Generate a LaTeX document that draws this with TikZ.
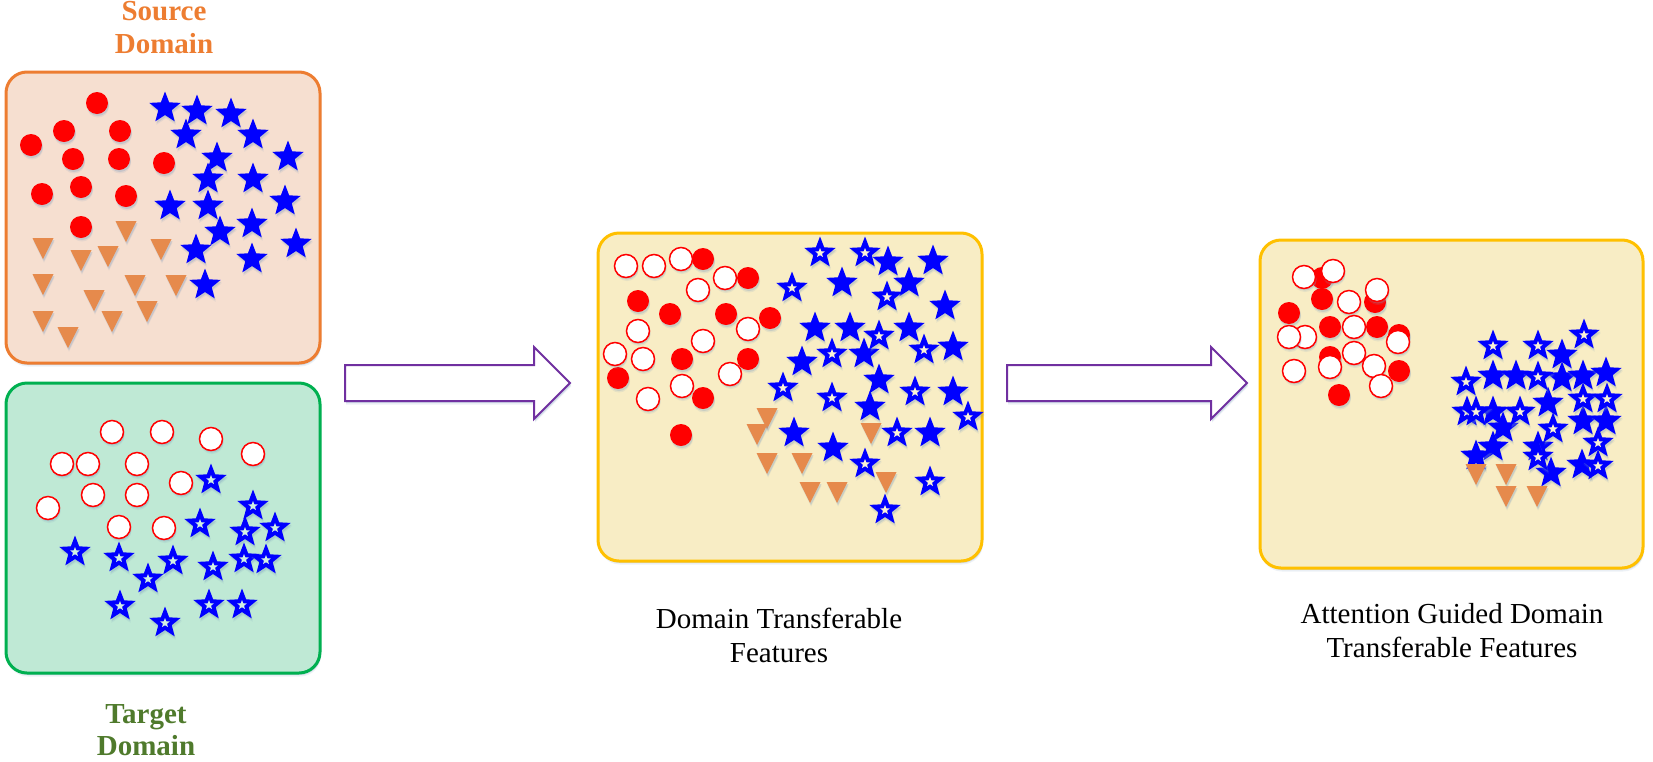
\documentclass[tikz,border=0pt]{standalone}
\usepackage{fontspec}
\setmainfont{Liberation Serif}
\usetikzlibrary{shapes.geometric,shapes.arrows,shadows}
\definecolor{srcfill}{HTML}{F6DFD0}
\definecolor{srcline}{HTML}{ED7D31}
\definecolor{tgtfill}{HTML}{BFE9D5}
\definecolor{tgtline}{HTML}{00B050}
\definecolor{yelfill}{HTML}{F8EDC5}
\definecolor{yelline}{HTML}{FFC000}
\definecolor{tgttext}{HTML}{4F7A2C}
\definecolor{arrline}{HTML}{7030A0}
\definecolor{triang}{HTML}{E68A4C}
\definecolor{shadowc}{HTML}{7F9DBF}
\tikzset{
  softshadow/.style={
    general shadow={shadow xshift=1pt,shadow yshift=-3.5pt,fill=shadowc,opacity=.14},
    general shadow={shadow xshift=1pt,shadow yshift=-2pt,fill=shadowc,opacity=.28}},
  panel/.style={rectangle,rounded corners=21pt,line width=3pt,inner sep=0pt,outer sep=0pt,softshadow},
  reddot/.style={circle,fill=red,minimum size=22pt,inner sep=0pt,softshadow},
  opendot/.style={circle,draw=red,line width=1.5pt,fill=white,minimum size=23pt,inner sep=0pt,softshadow},
  bluestar/.style={star,star points=5,star point ratio=2.35,fill=blue,minimum size=33pt,inner sep=0pt,softshadow},
  starhole/.style={star,star points=5,star point ratio=2.3,minimum size=10pt,inner sep=0pt},
  tritop/.style={fill=triang,softshadow},
  blockarrow/.style={single arrow,draw=arrline,fill=white,line width=2pt,inner xsep=0pt,inner ysep=17pt,outer sep=0pt,
    single arrow head extend=18pt,single arrow tip angle=90,
    single arrow head indent=0pt,softshadow},
  lab/.style={align=center,inner sep=0pt,font=\fontsize{29}{34}\selectfont},
}
\newcommand{\redset}[2]{\foreach \x/\y [count=\i] in {#2} \node[reddot] (#1\i) at (\x,\y) {};}
\newcommand{\openset}[2]{\foreach \x/\y [count=\i] in {#2} \node[opendot] (#1\i) at (\x,\y) {};}
\newcommand{\solidstars}[2]{\foreach \x/\y [count=\i] in {#2} \node[bluestar] (#1\i) at (\x,\y) {};}
\newcommand{\holostars}[3]{\foreach \x/\y [count=\i] in {#2} {\node[bluestar] (#1\i) at (\x,\y) {};\node[starhole,fill=#3] (#1h\i) at (\x,\y) {};}}
\newcommand{\tris}[1]{\foreach \x/\y in {#1} \path[tritop] (\x-10.5,\y) -- (\x+10.5,\y) -- (\x,\y+21) -- cycle;}
\begin{document}
\begin{tikzpicture}[x=1pt,y=-1pt]
\useasboundingbox (0,0) rectangle (1653,761);
\clip (0,0) rectangle (1653,761);
% panels
\node[panel,draw=srcline,fill=srcfill,minimum width=314pt,minimum height=291pt] (src) at (163,217.5) {};
\node[panel,draw=tgtline,fill=tgtfill,minimum width=314pt,minimum height=290pt] (tgt) at (163,528) {};
\node[panel,draw=yelline,fill=yelfill,minimum width=384pt,minimum height=328pt] (dtf) at (790,397) {};
\node[panel,draw=yelline,fill=yelfill,minimum width=383pt,minimum height=328pt] (agd) at (1451.5,404) {};
% arrows
\node[blockarrow,minimum height=225pt] (arrA) at (448.5,383) {};
\node[blockarrow,minimum height=240pt] (arrB) at (1118,383) {};
% labels
\node[lab,text=srcline,font=\fontsize{29}{33}\selectfont\bfseries] (srclab) at (164,28) {Source\\Domain};
\node[lab,text=tgttext,font=\fontsize{29}{32}\selectfont\bfseries] (tgtlab) at (146,730) {Target\\Domain};
\node[lab] (dtflab) at (779,635) {Domain Transferable\\Features};
\node[lab] (agdlab) at (1452,631) {Attention Guided Domain\\Transferable Features};
% source panel
\redset{sr}{97/103,64/131,120/131,31/145,73/159,119/159,164/163,42/194,81/187,126/196,81/227}
\tris{126/221,43/238,81/250,108/246,161/239,43/274,135/275,176/275,94/290,147/301,43/311,112/311,68/327}
\solidstars{ss}{165/108,197/111,231/114,186/135,253/135,217/158,288/157,208/179,253/179,170/206,208/206,285/201,220/232,252/224,196/250,296/244,252/259,205/285}
% target panel
\openset{to}{112/432,162/432,211/439,253/454,62/464,88/464,137/464,181/483,93/495,137/495,48/508,119/527,164/528}
\holostars{ts}{211/480,253/506,200/524,245/532,275/528,75/552,119/558,173/561,148/579,213/567,244/559,266/560,120/606,165/623,209/605,242/605}{tgtfill!70!white}
% domain transferable panel
\redset{dr}{748/278,638/301,670/314,726/314,770/318,682/359,748/359,618/378,681/435}
\openset{do}{626/266,654/266,681/259,725/278,698/290,638/331,748/329,703/341,615/354,643/359,730/374,682/386,648/399}
\redset{dq}{703/259,703/398}
\solidstars{ds}{888/262,933/261,842/283,909/283,945/306,815/328,850/328,909/328,953/347,802/362,864/354,879/380,953/392,870/407,794/433,930/433,833/448}
\holostars{dh}{820/253,865/253,792/288,887/297,879/336,832/354,924/350,783/388,832/398,915/392,968/417,897/433,865/464,930/482,885/510}{yelfill!70!white}
\tris{767/408,757/424,767/453,802/453,810/482,837/482,871/423,886/472}
% attention guided panel
\redset{ar}{1322/278,1322/299,1375/302,1289/313,1330/327,1377/327,1399/335,1330/357,1399/371,1339/395}
\openset{ao}{1304/277,1333/271,1349/302,1377/290,1354/327,1305/337,1289/337,1398/342,1354/353,1330/367,1374/366,1294/371,1381/386}
\solidstars{as}{1493/376,1516/376,1493/412,1503/428,1493/447,1476/456,1562/355,1562/378,1583/376,1606/373,1548/403,1583/421,1606/421,1538/447,1582/465,1551/473}
\holostars{ah}{1493/346,1538/346,1466/382,1538/377,1467/412,1476/412,1520/412,1584/335,1583/399,1607/399,1553/429,1598/443,1598/466,1538/457}{yelfill!70!white}
\tris{1476/464,1506/464,1506/486,1537/486}
\end{tikzpicture}
\end{document}
